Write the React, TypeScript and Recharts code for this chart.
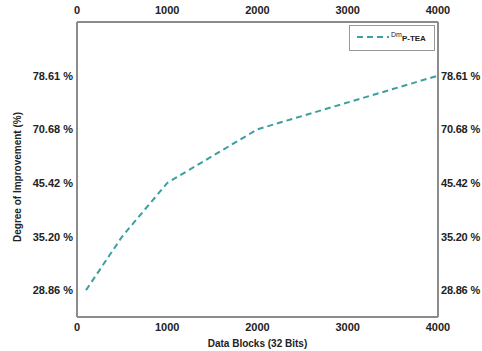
import React from 'react';
import { LineChart, Line, XAxis, YAxis, Label } from 'recharts';

// Values
const blocks = [100, 500, 1000, 2000, 4000];
const improvement = [28.86, 35.2, 45.42, 70.68, 78.61];
const xTicks = [0, 1000, 2000, 3000, 4000];
// the y axis is drawn with evenly spaced (non-linear) levels
const yLevels = [28.86, 35.2, 45.42, 70.68, 78.61];

const data = blocks.map((b, i) => ({
  blocks: b,
  level: yLevels.indexOf(improvement[i]),
  value: improvement[i],
}));

const FONT = '"Liberation Sans", Arial, sans-serif';
const AXIS = '#8c8c8c';
const TEAL = '#3a9fa0';
const tickStyle = { fontSize: 11, fontWeight: 700, fill: '#222', fontFamily: FONT };
const yFmt = (v: number) => (yLevels[v] !== undefined ? `${yLevels[v].toFixed(2)} %` : '');

// plain svg text so recharts doesn't wrap the labels
const YTick = (props: any) => {
  const { x, y, payload, anchor, shift } = props;
  return (
    <text
      x={x + shift}
      y={y}
      textAnchor={anchor}
      dominantBaseline="central"
      fontSize={11}
      fontWeight={700}
      letterSpacing={anchor === 'start' ? -0.2 : 0}
      fill="#222"
      fontFamily={FONT}
    >
      {yFmt(payload.value)}
    </text>
  );
};

const LegendBox = () => (
  <svg width={86} height={26} style={{ position: 'absolute', left: 349, top: 25 }}>
    <rect x={0.5} y={0.5} width={85} height={25} fill="#fff" stroke="#999" strokeWidth={1} />
    <line x1={8} y1={12} x2={40} y2={12} stroke={TEAL} strokeWidth={2} strokeDasharray="6 4" />
    <text x={42} y={12} fontSize={7} fill="#222" fontFamily={FONT}>
      Dm
      <tspan dy={4} fontSize={8} fontWeight={700}>P-TEA</tspan>
    </text>
  </svg>
);

const App: React.FC = () => {
  return (
    <div style={{ position: 'absolute', left: 0, top: 0, width: 482, height: 351, background: '#fff' }}>
      <LineChart width={482} height={351} data={data} margin={{ top: 0, right: 0, bottom: 0, left: 0 }}>
        <XAxis
          xAxisId="bottom"
          dataKey="blocks"
          type="number"
          domain={[0, 4000]}
          ticks={xTicks}
          height={34}
          tickLine={false}
          axisLine={{ stroke: AXIS, strokeWidth: 2 }}
          tick={tickStyle}
          tickMargin={0}
        >
          <Label
            value="Data Blocks (32 Bits)"
            position="insideBottom"
            offset={4}
            style={{ fontSize: 10, fontWeight: 700, fill: '#222', fontFamily: FONT }}
          />
        </XAxis>
        <XAxis
          xAxisId="top"
          orientation="top"
          dataKey="blocks"
          type="number"
          domain={[0, 4000]}
          ticks={xTicks}
          height={22}
          tickLine={false}
          axisLine={{ stroke: AXIS, strokeWidth: 2 }}
          tick={tickStyle}
          tickMargin={2}
        />
        <YAxis
          yAxisId="left"
          dataKey="level"
          type="number"
          domain={[-0.5, 5]}
          ticks={[0, 1, 2, 3, 4]}
          width={77}
          tickLine={false}
          axisLine={{ stroke: AXIS, strokeWidth: 2 }}
          tick={<YTick anchor="end" shift={2} />}
          tickMargin={0}
        >
          <Label
            content={() => (
              <text
                x={17}
                y={177}
                transform="rotate(-90 17 177)"
                textAnchor="middle"
                dominantBaseline="central"
                fontSize={10}
                fontWeight={700}
                fill="#222"
                fontFamily={FONT}
              >
                Degree of Improvement (%)
              </text>
            )}
          />
        </YAxis>
        <YAxis
          yAxisId="right"
          orientation="right"
          dataKey="level"
          type="number"
          domain={[-0.5, 5]}
          ticks={[0, 1, 2, 3, 4]}
          width={44}
          tickLine={false}
          axisLine={{ stroke: AXIS, strokeWidth: 2 }}
          tick={<YTick anchor="start" shift={-3} />}
          tickMargin={0}
        />
        <Line
          xAxisId="bottom"
          yAxisId="left"
          type="linear"
          dataKey="level"
          name="DmP-TEA"
          stroke={TEAL}
          strokeWidth={2}
          strokeDasharray="6 4"
          dot={false}
          activeDot={false}
          isAnimationActive={false}
        />
      </LineChart>
      <LegendBox />
    </div>
  );
};

export default App;
